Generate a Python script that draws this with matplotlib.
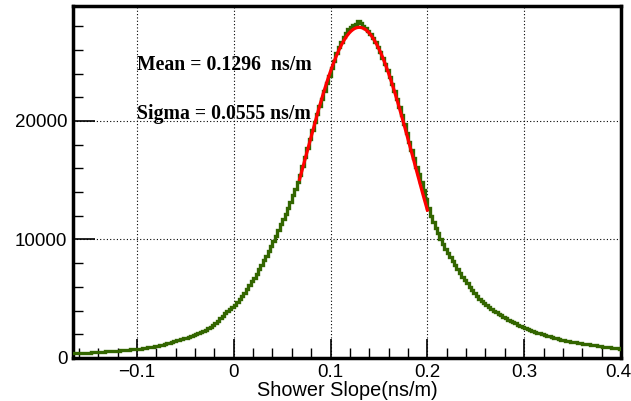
import numpy as np
import matplotlib
matplotlib.use("Agg")
import matplotlib.pyplot as plt
from matplotlib.ticker import MultipleLocator
from matplotlib.transforms import ScaledTranslation

# Histogram: bin range and counts, bin width 0.0025
bin_lo, bin_hi = -0.17, 0.40
counts = [
    385, 395, 405, 415, 425, 435, 445, 455, 464, 476, 494, 506, 514, 526, 542, 558, 572, 588, 602, 618,
    632, 648, 661, 679, 700, 720, 740, 760, 779, 801, 825, 855, 892, 928, 961, 999, 1039, 1081, 1125, 1175,
    1229, 1291, 1369, 1431, 1480, 1540, 1609, 1671, 1726, 1794, 1872, 1948, 2017, 2103, 2201, 2299, 2394, 2506, 2625, 2775,
    2956, 3144, 3344, 3556, 3800, 4000, 4162, 4338, 4494, 4706, 4969, 5231, 5500, 5800, 6137, 6463, 6775, 7125, 7512, 7888,
    8256, 8644, 9044, 9456, 9875, 10325, 10819, 11281, 11719, 12181, 12644, 13156, 13719, 14281, 14825, 15475, 16231, 16969, 17725, 18475,
    19250, 19950, 20575, 21225, 21875, 22525, 23181, 23819, 24437, 25063, 25731, 26269, 26700, 27100, 27462, 27738, 27912, 28088, 28200, 28400,
    28250, 28050, 27869, 27631, 27363, 27037, 26656, 26244, 25788, 25312, 24813, 24287, 23744, 23156, 22525, 21875, 21206, 20494, 19719, 18981,
    18256, 17544, 16844, 16156, 15488, 14812, 14156, 13444, 12625, 11975, 11450, 10950, 10525, 10075, 9600, 9200, 8869, 8531, 8225, 7875,
    7469, 7131, 6844, 6556, 6288, 6012, 5731, 5469, 5206, 4994, 4838, 4662, 4488, 4312, 4125, 3975, 3863, 3737, 3613, 3487,
    3359, 3241, 3133, 3027, 2934, 2826, 2700, 2600, 2520, 2440, 2368, 2292, 2215, 2145, 2083, 2017, 1953, 1887, 1819, 1761,
    1716, 1664, 1605, 1555, 1511, 1469, 1430, 1390, 1349, 1311, 1276, 1244, 1216, 1184, 1146, 1114, 1085, 1055, 1025, 995,
    964, 936, 913, 887, 863, 837, 812, 788,
]

# Gaussian fit parameters
fit_amp, fit_mean, fit_sigma = 27900, 0.1296, 0.0555
fit_lo, fit_hi = 0.068, 0.200

x_ticks = [-0.1, 0, 0.1, 0.2, 0.3, 0.4]
x_ticklabels = ["\u22120.1", "0", "0.1", "0.2", "0.3", "0.4"]
y_ticks = [0, 10000, 20000]
y_ticklabels = ["0", "10000", "20000"]

edges = np.linspace(bin_lo, bin_hi, len(counts) + 1)

fig = plt.figure(figsize=(6.31, 4.01), dpi=100)
ax = fig.add_axes([73 / 631, 43 / 401, 548 / 631, 352 / 401])

ax.stairs(counts, edges, baseline=None, color="#336600", linewidth=2.4, zorder=3)

xf = np.linspace(fit_lo, fit_hi, 200)
yf = fit_amp * np.exp(-0.5 * ((xf - fit_mean) / fit_sigma) ** 2)
ax.plot(xf, yf, color="#ff0000", linewidth=2.3, zorder=4)

ax.set_xlim(-0.166, 0.4)
ax.set_ylim(0, 29700)

ax.set_xticks(x_ticks)
ax.set_xticklabels(x_ticklabels)
ax.set_yticks(y_ticks)
ax.set_yticklabels(y_ticklabels)
ax.xaxis.set_minor_locator(MultipleLocator(0.02))
ax.yaxis.set_minor_locator(MultipleLocator(2000))

ax.tick_params(which="major", direction="in", length=14, width=1.2, labelsize=13.5,
               top=False, right=False)
ax.tick_params(axis="y", which="major", length=16)
ax.tick_params(which="minor", direction="in", length=7, width=1.0, top=False, right=False)
ax.tick_params(axis="x", pad=4)
ax.tick_params(axis="y", pad=4)
for lab in ax.get_xticklabels() + ax.get_yticklabels():
    lab.set_family("Liberation Sans")
last = ax.get_xticklabels()[-1]
last.set_transform(last.get_transform() + ScaledTranslation(-3 / 100, 0, fig.dpi_scale_trans))

ax.grid(True, which="major", color="black", linestyle=(0, (1, 2)), linewidth=0.8)

for s in ax.spines.values():
    s.set_linewidth(2.5)
    s.set_color("black")

ax.set_xlabel("Shower Slope(ns/m)", fontsize=14.3, family="Liberation Sans", labelpad=0)

ax.text(-0.1, 24750, "Mean = 0.1296  ns/m", fontsize=14.2, family="Liberation Serif",
        fontweight="bold", va="center", ha="left", zorder=5)
ax.text(-0.1, 20550, "Sigma = 0.0555 ns/m", fontsize=14.2, family="Liberation Serif",
        fontweight="bold", va="center", ha="left", zorder=5)

fig.savefig("out.png", dpi=100)
